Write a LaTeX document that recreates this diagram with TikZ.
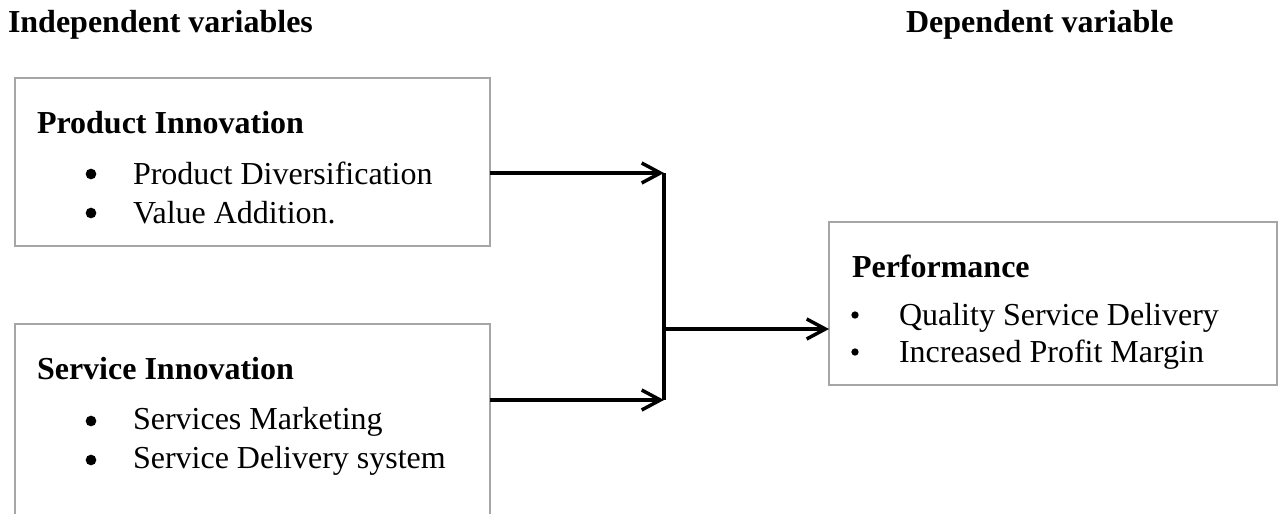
\documentclass[tikz,border=0pt]{standalone}
\usepackage{fontspec}
\setmainfont{Liberation Serif}
\usetikzlibrary{arrows.meta}
\definecolor{boxgray}{HTML}{A6A6A6}
\begin{document}
\begin{tikzpicture}[x=0.75pt,y=-0.75pt,
  box/.style={draw=boxgray, line width=1.5pt, rectangle, inner sep=0pt, outer sep=0pt},
  txt/.style={anchor=base west, inner sep=0pt, outer sep=0pt, font=\fontsize{24}{29}\selectfont},
  head/.style={txt, font=\fontsize{24}{29}\selectfont\bfseries},
  bbul/.style={circle, fill=black, inner sep=0pt, minimum size=8pt},
  sbul/.style={circle, fill=black, inner sep=0pt, minimum size=5.5pt},
  conn/.style={line width=2.6pt, draw=black},
  arr/.style={conn, -{Straight Barb[length=14pt, width=15pt, line width=2.6pt]}}]
\useasboundingbox (0,0) rectangle (1279,514);
\clip (0,0) rectangle (1279,514);
% headers
\node[head] (hind) at (8,32) {Independent variables};
\node[head] (hdep) at (906,32) {Dependent variable};
% boxes
\node[box, minimum width=356.25pt, minimum height=126pt] (prod) at (252.5,162) {};
\node[box, minimum width=356.25pt, minimum height=177pt] (serv) at (252.5,442) {};
\node[box, minimum width=336pt, minimum height=122.25pt] (perf) at (1053,303.5) {};
% product innovation text
\node[head] (pt) at (37,133) {Product Innovation};
\node[bbul] (pb1) at (91,174) {};
\node[txt] (p1) at (133,184) {Product Diversification};
\node[bbul] (pb2) at (91,213) {};
\node[txt] (p2) at (133,223) {Value Addition.};
% service innovation text
\node[head] (st) at (37,379) {Service Innovation};
\node[bbul] (sb1) at (91,421) {};
\node[txt] (s1) at (133,429) {Services Marketing};
\node[bbul] (sb2) at (91,460) {};
\node[txt] (s2) at (133,468) {Service Delivery system};
% performance text
\node[head] (ft) at (852,277) {Performance};
\node[sbul] (fb1) at (855,315) {};
\node[txt] (f1) at (899,325) {Quality Service Delivery};
\node[sbul] (fb2) at (855,352) {};
\node[txt] (f2) at (899,362) {Increased Profit Margin};
% connectors
\coordinate (j1) at (664,173);
\coordinate (j2) at (664,400);
\coordinate (jm) at (664,329);
\draw[arr] (prod.east |- j1) -- (j1);
\draw[arr] (serv.east |- j2) -- (j2);
\draw[conn] (j1) -- (j2);
\draw[arr] (jm) -- (perf.west |- jm);
\end{tikzpicture}
\end{document}
